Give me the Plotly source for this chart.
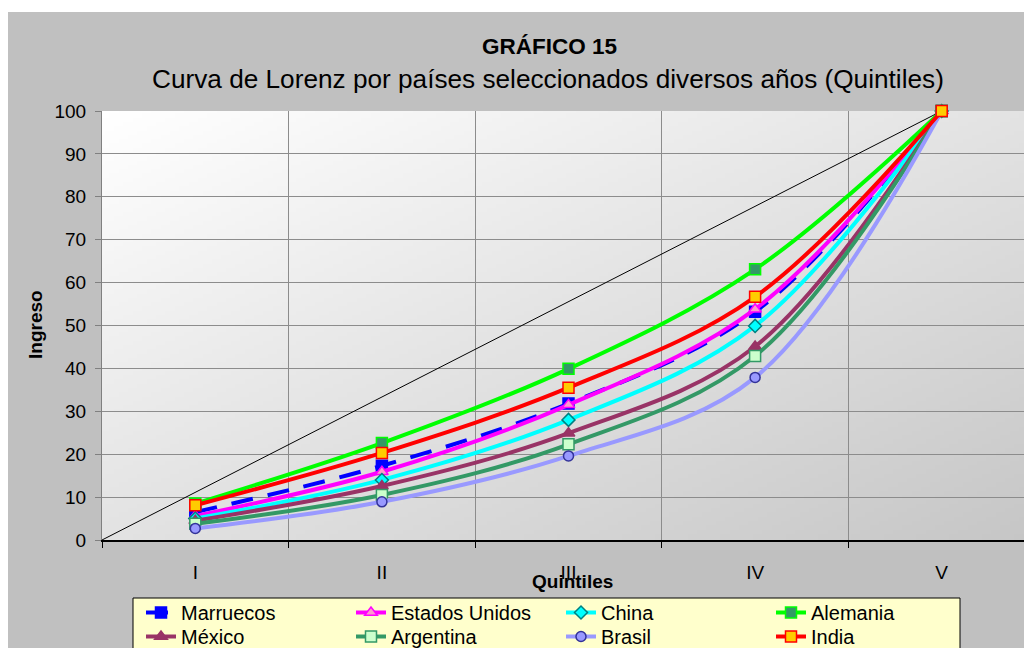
import base64
import struct
import zlib

import plotly.graph_objects as go

# Datos (porcentaje acumulado del ingreso por quintil)
quintiles = ["I", "II", "III", "IV", "V"]
quintil_pos = [1, 2, 3, 4, 5]

marruecos = [6.5, 17.3, 31.8, 53.2, 100]
estados_unidos = [5.6, 15.9, 31.5, 53.8, 100]
china = [5.0, 14.0, 28.0, 49.9, 100]
alemania = [8.5, 22.6, 39.9, 63.1, 100]
mexico = [4.5, 12.6, 24.9, 45.1, 100]
argentina = [3.8, 10.5, 22.3, 42.9, 100]
brasil = [2.7, 8.9, 19.6, 37.9, 100]
india = [8.1, 20.3, 35.5, 56.7, 100]

# linea de igualdad perfecta
igualdad_x = [0.5, 5]
igualdad_y = [0, 100]

FONT = "Liberation Sans, Arial, sans-serif"


def gradient_png(w, h, start, end):
    '''Imagen PNG con degradado diagonal para el fondo del area de trazado'''
    raw = bytearray()
    for j in range(h):
        raw.append(0)
        for i in range(w):
            t = (i / (w - 1) + j / (h - 1)) / 2
            for c0, c1 in zip(start, end):
                raw.append(round(c0 + (c1 - c0) * t))

    def chunk(tag, data):
        return (struct.pack(">I", len(data)) + tag + data
                + struct.pack(">I", zlib.crc32(tag + data) & 0xffffffff))

    png = (b"\x89PNG\r\n\x1a\n"
           + chunk(b"IHDR", struct.pack(">IIBBBBB", w, h, 8, 2, 0, 0, 0))
           + chunk(b"IDAT", zlib.compress(bytes(raw)))
           + chunk(b"IEND", b""))
    return "data:image/png;base64," + base64.b64encode(png).decode()


series = [
    # nombre, valores, color linea, simbolo, relleno, borde, dash, leyenda
    ("Marruecos", marruecos, "#0000FF", "square", "#0000FF", "#0000FF", "22px,15px", "legend"),
    ("Estados Unidos", estados_unidos, "#FF00FF", "triangle-up", "#FF99CC", "#FF00FF", "solid", "legend"),
    ("China", china, "#00FFFF", "diamond", "#00FFFF", "#008080", "solid", "legend"),
    ("Alemania", alemania, "#00FF00", "square", "#339966", "#00FF00", "solid", "legend"),
    ("México", mexico, "#993366", "triangle-up", "#993366", "#993366", "solid", "legend2"),
    ("Argentina", argentina, "#339966", "square", "#CCFFCC", "#339966", "solid", "legend2"),
    ("Brasil", brasil, "#9999FF", "circle", "#9999FF", "#333399", "solid", "legend2"),
    ("India", india, "#FF0000", "square", "#FFCC00", "#FF0000", "solid", "legend2"),
]

fig = go.Figure()

fig.add_trace(go.Scatter(
    x=igualdad_x, y=igualdad_y, mode="lines",
    line=dict(color="black", width=1),
    showlegend=False, hoverinfo="skip", cliponaxis=False
))

for name, vals, color, symbol, fill, border, dash, leg in series:
    size = 11 if symbol in ("square", "triangle-up") else 10
    fig.add_trace(go.Scatter(
        x=quintil_pos, y=vals, name=name, mode="lines+markers",
        line=dict(color=color, width=4, shape="spline", smoothing=1, dash=dash),
        marker=dict(symbol=symbol, size=size, color=fill,
                    line=dict(color=border, width=1.5)),
        legend=leg, cliponaxis=False
    ))


# pixeles de pantalla -> coordenadas paper (area de trazado: x 102..1035, y 111..540)
def px_x(px):
    return (px - 102) / 933


def px_y(py):
    return (540 - py) / 429


legend_common = dict(
    orientation="h", xanchor="left", yanchor="top",
    entrywidth=165, bgcolor="rgba(0,0,0,0)", borderwidth=0,
    font=dict(family=FONT, size=20, color="black"),
    itemclick=False, tracegroupgap=0
)

fig.update_layout(
    width=1032, height=690,
    margin=dict(l=94, r=5, t=103, b=158),
    paper_bgcolor="#C0C0C0",
    plot_bgcolor="#FFFFFF",
    font=dict(family=FONT, size=19, color="black"),
    showlegend=True,
    legend=dict(legend_common, x=px_x(141), y=px_y(593)),
    legend2=dict(legend_common, x=px_x(141), y=px_y(617)),
    xaxis=dict(
        range=[0.5, 5.5], tickvals=quintil_pos, ticktext=quintiles,
        showgrid=False, ticks="", ticklabelstandoff=14,
        showline=True, linecolor="black", linewidth=2,
        zeroline=False,
        minor=dict(tick0=0.5, dtick=1, ticks="outside", ticklen=6,
                   tickcolor="black", showgrid=True,
                   gridcolor="#8C8C8C", gridwidth=1),
        tickfont=dict(size=19)
    ),
    yaxis=dict(
        range=[0, 100], dtick=10, showgrid=True, gridcolor="#8C8C8C",
        gridwidth=1, ticks="outside", ticklen=6, tickcolor="#808080",
        showline=True, linecolor="#808080", linewidth=1,
        zeroline=False, ticklabelstandoff=5,
        tickfont=dict(size=19)
    ),
    images=[dict(
        source=gradient_png(200, 100, (255, 255, 255), (198, 198, 198)),
        xref="paper", yref="paper", x=0, y=1, sizex=1, sizey=1,
        xanchor="left", yanchor="top", sizing="stretch", layer="below"
    )],
    shapes=[
        # franja blanca superior
        dict(type="rect", xref="paper", yref="paper",
             x0=px_x(-5), x1=px_x(1045), y0=px_y(12), y1=px_y(-5),
             fillcolor="white", line_width=0, layer="below"),
        # recuadro de la leyenda
        dict(type="rect", xref="paper", yref="paper",
             x0=px_x(133), x1=px_x(960), y0=px_y(598), y1=px_y(670),
             fillcolor="#FFFFCC", line=dict(color="black", width=1),
             layer="above"),
    ],
    annotations=[
        dict(text="<b>GRÁFICO 15</b>", xref="paper", yref="paper",
             x=px_x(549), y=px_y(47), showarrow=False,
             font=dict(size=22.5), xanchor="center", yanchor="middle"),
        dict(text="Curva de Lorenz por países seleccionados diversos años (Quintiles)",
             xref="paper", yref="paper", x=px_x(548), y=px_y(79),
             showarrow=False, font=dict(size=26.2),
             xanchor="center", yanchor="middle"),
        dict(text="<b>Quintiles</b>", xref="paper", yref="paper",
             x=px_x(572), y=px_y(581), showarrow=False,
             font=dict(size=19), xanchor="center", yanchor="middle"),
        dict(text="<b>Ingreso</b>", xref="paper", yref="paper",
             x=px_x(35), y=px_y(325), showarrow=False, textangle=-90,
             font=dict(size=19), xanchor="center", yanchor="middle"),
    ],
)

fig.write_html("out.html")
